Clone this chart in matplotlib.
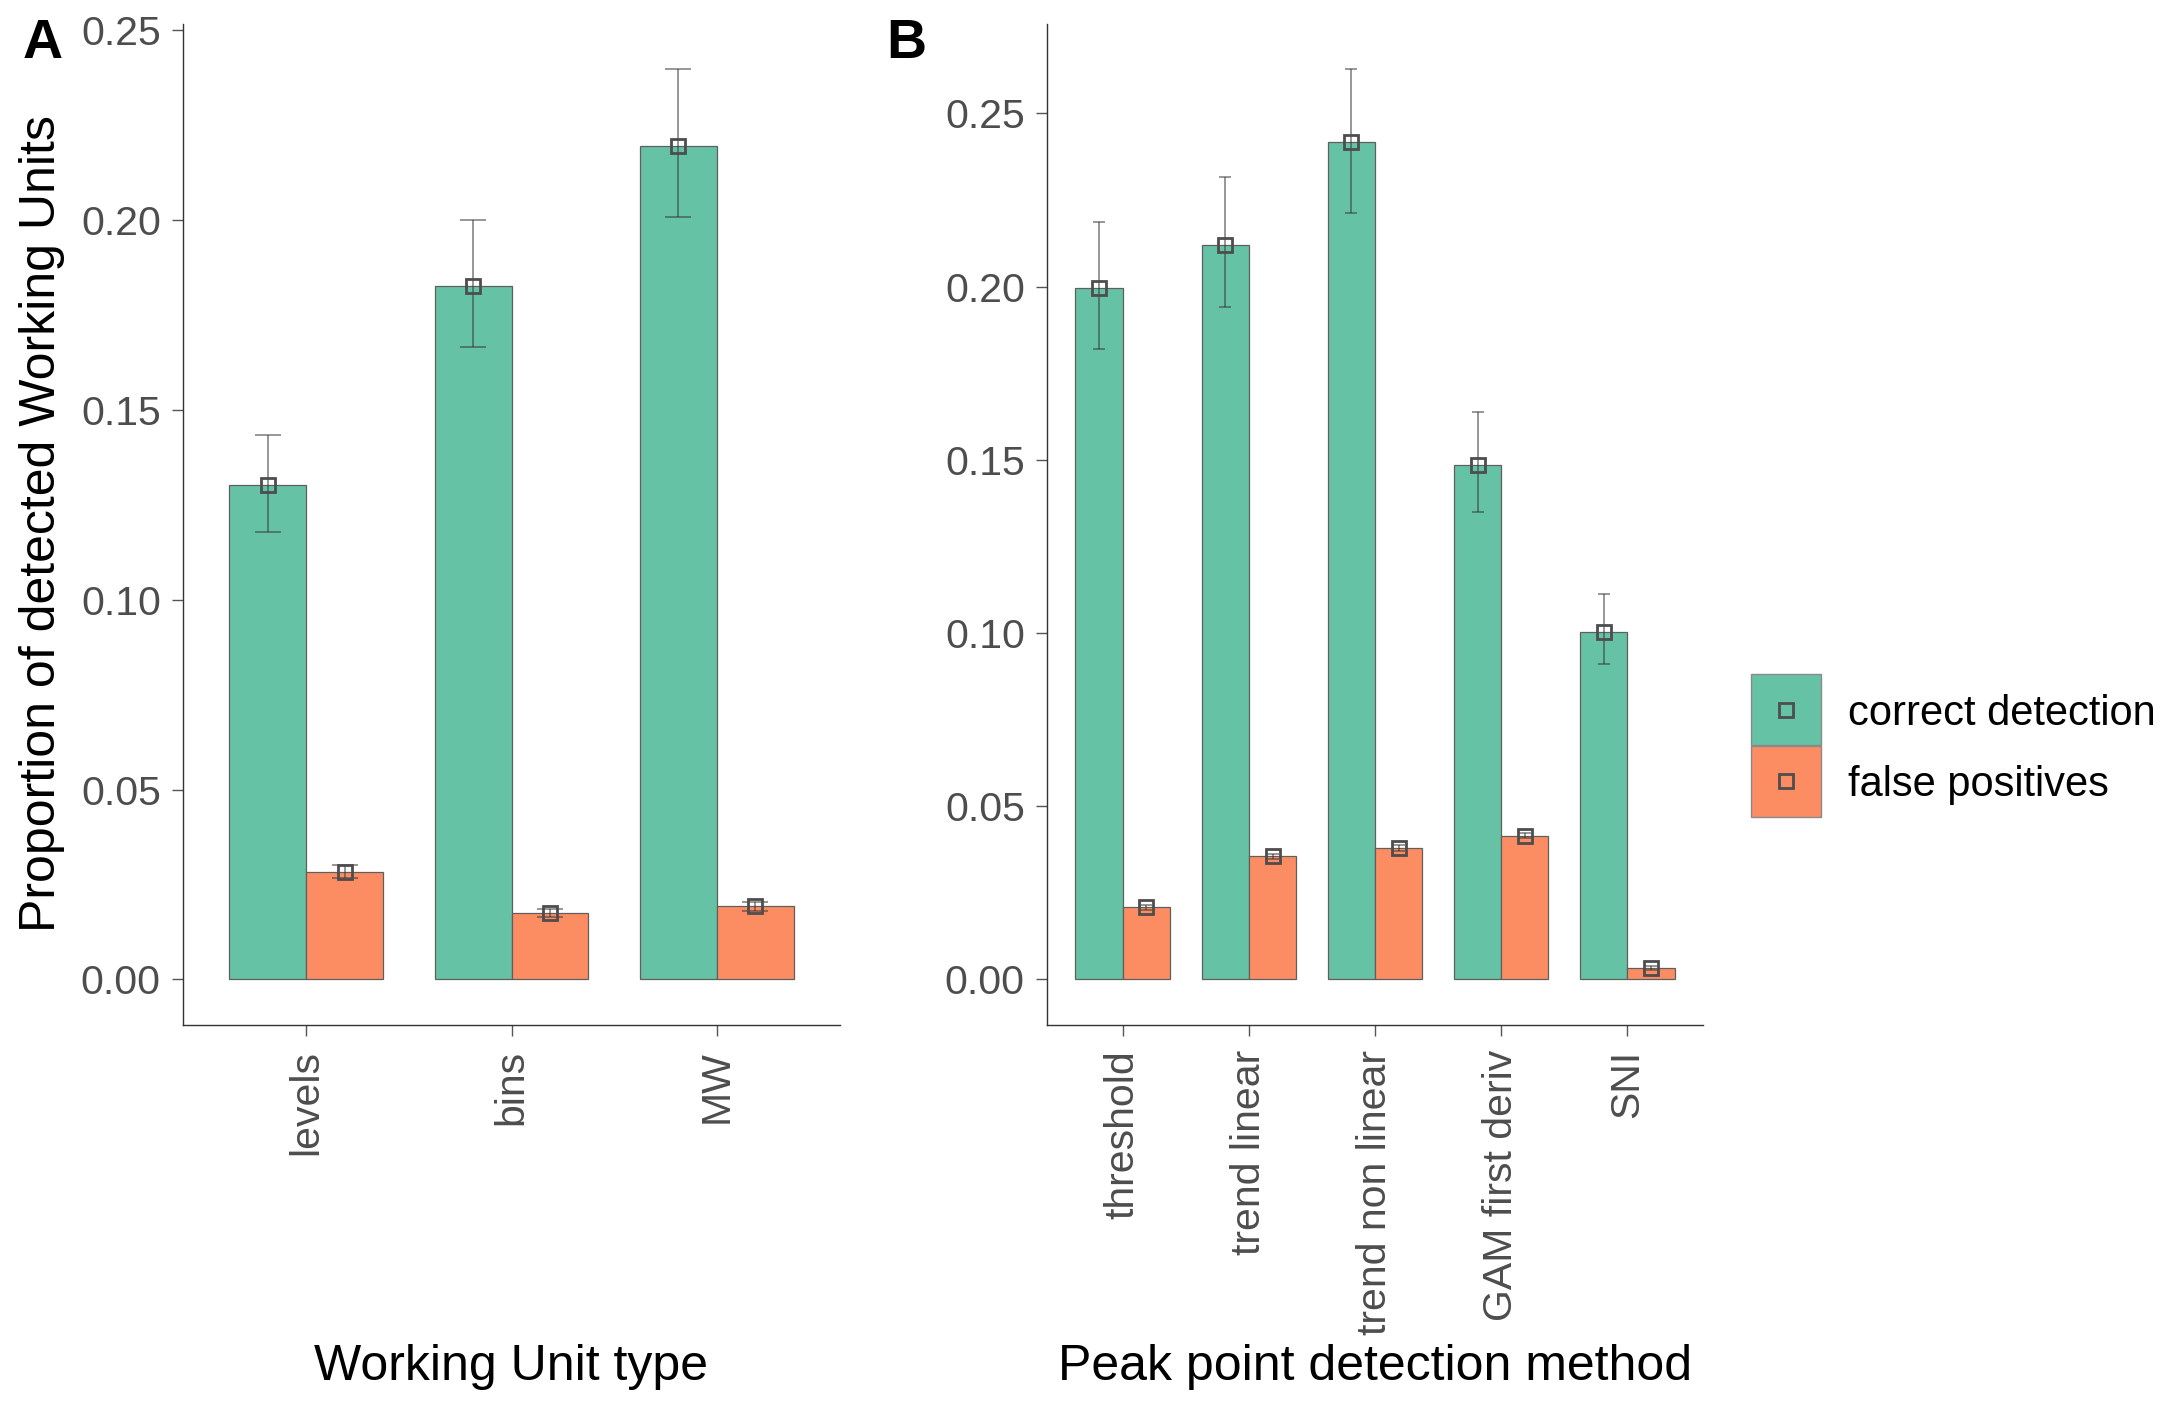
import matplotlib
matplotlib.use("Agg")
import matplotlib.pyplot as plt
from matplotlib.patches import Rectangle
from matplotlib.lines import Line2D
import numpy as np

plt.rcParams['font.family'] = ['Liberation Sans', 'DejaVu Sans']

# ---------------- data ----------------
A_cats = ['levels', 'bins', 'MW']
A_correct = [0.1303, 0.1827, 0.2194]
A_correct_lo = [0.1179, 0.1667, 0.2009]
A_correct_hi = [0.1434, 0.2001, 0.2398]
A_fp = [0.0284, 0.0175, 0.0193]
A_fp_lo = [0.0267, 0.0165, 0.0181]
A_fp_hi = [0.0301, 0.0185, 0.0205]

B_cats = ['threshold', 'trend linear', 'trend non linear', 'GAM first deriv', 'SNI']
B_correct = [0.1997, 0.2121, 0.2416, 0.1486, 0.1002]
B_correct_lo = [0.1821, 0.1941, 0.2212, 0.1350, 0.0911]
B_correct_hi = [0.2185, 0.2316, 0.2628, 0.1637, 0.1114]
B_fp = [0.0208, 0.0355, 0.0379, 0.0415, 0.0032]
B_fp_lo = [0.0200, 0.0347, 0.0371, 0.0407, 0.0026]
B_fp_hi = [0.0216, 0.0363, 0.0387, 0.0423, 0.0038]

series_names = ['correct detection', 'false positives']
colors = ['#66C2A5', '#FC8D62']
yticks = [0.00, 0.05, 0.10, 0.15, 0.20, 0.25]

W, H, DPI = 2171, 1417, 100
fig = plt.figure(figsize=(W / DPI, H / DPI), dpi=DPI)

top = 1 - 23.5 / H
bottom = 1 - 1025 / H
axA = fig.add_axes([183 / W, bottom, (840 - 183) / W, top - bottom])
axB = fig.add_axes([1047 / W, bottom, (1703 - 1047) / W, top - bottom])

EDGE = '#5f5f5f'
PT_COL = '#4D4D4D'
TXT_GREY = '#4D4D4D'
MS = 10
MEW = 2.0


def draw_panel(ax, cats, corr, corr_lo, corr_hi, fp, fp_lo, fp_hi, capw):
    n = len(cats)
    x = np.arange(n)
    bw = 0.375
    vals = [corr, fp]
    los = [corr_lo, fp_lo]
    his = [corr_hi, fp_hi]
    ax.set_xlim(-0.6, n - 1 + 0.6)
    allhi = max(max(corr_hi), max(fp_hi))
    ax.set_ylim(-0.05 * allhi, allhi * 1.05)
    fig.canvas.draw()
    bbox = ax.get_window_extent()
    ppu = bbox.width / (n + 0.2)
    cap_pt = capw * ppu * 72 / DPI
    for k in range(2):
        xs = x + (k - 0.5) * bw
        ax.bar(xs, vals[k], width=bw, color=colors[k], edgecolor=EDGE,
               linewidth=0.9, zorder=2)
        v = np.array(vals[k])
        yerr = np.vstack([v - np.array(los[k]), np.array(his[k]) - v])
        ax.errorbar(xs, v, yerr=yerr, fmt='none', ecolor='#333333',
                    alpha=0.55, elinewidth=1.3, capsize=cap_pt / 2,
                    capthick=1.3, zorder=3)
        ax.plot(xs, v, ls='none', marker='s', ms=MS, mfc='none',
                mec=PT_COL, mew=MEW, zorder=4)
    ax.set_xticks(x)
    ax.set_xticklabels(cats, rotation=90, ha='center', va='top')
    ax.set_yticks(yticks)
    ax.set_yticklabels(['%.2f' % t for t in yticks])
    for s in ['top', 'right']:
        ax.spines[s].set_visible(False)
    for s in ['left', 'bottom']:
        ax.spines[s].set_color('#333333')
        ax.spines[s].set_linewidth(1.0)
    ax.tick_params(axis='both', length=8, width=1.0, color='#555555',
                   labelsize=29.5, labelcolor=TXT_GREY)
    ax.tick_params(axis='y', pad=8)
    ax.tick_params(axis='x', pad=10)


draw_panel(axA, A_cats, A_correct, A_correct_lo, A_correct_hi,
           A_fp, A_fp_lo, A_fp_hi, capw=0.125)
draw_panel(axB, B_cats, B_correct, B_correct_lo, B_correct_hi,
           B_fp, B_fp_lo, B_fp_hi, capw=0.10)

# axis titles
fig.text(42 / W, 1 - 524 / H, 'Proportion of detected Working Units',
         rotation=90, ha='center', va='center', fontsize=36, color='black')
fig.text((183 + 840) / 2 / W, 1 - 1367 / H, 'Working Unit type',
         ha='center', va='center', fontsize=36, color='black')
fig.text((1047 + 1703) / 2 / W, 1 - 1367 / H, 'Peak point detection method',
         ha='center', va='center', fontsize=36, color='black')

# panel tags
fig.text(43 / W, 1 - 44 / H, 'A', ha='center', va='center', fontsize=40,
         fontweight='bold')
fig.text(906 / W, 1 - 44 / H, 'B', ha='center', va='center', fontsize=40,
         fontweight='bold')

# legend (drawn as keys + labels in figure coordinates)
key_x0, key_w = 1751, 70
key_top, key_h = 674, 71.5
text_x = 1848
for k, name in enumerate(series_names):
    y_top = key_top + k * key_h
    fig.add_artist(Rectangle((key_x0 / W, 1 - (y_top + key_h) / H),
                             key_w / W, key_h / H,
                             transform=fig.transFigure,
                             facecolor=colors[k], edgecolor='#8a8a8a',
                             linewidth=1.0))
    cy = 1 - (y_top + key_h / 2) / H
    fig.add_artist(Line2D([(key_x0 + key_w / 2) / W], [cy],
                          transform=fig.transFigure, ls='none', marker='s',
                          ms=MS, mfc='none', mec=PT_COL, mew=MEW))
    fig.text(text_x / W, cy - 4 / H, name, ha='left', va='center',
             fontsize=30, color='black')

fig.savefig('out.png', dpi=DPI)
